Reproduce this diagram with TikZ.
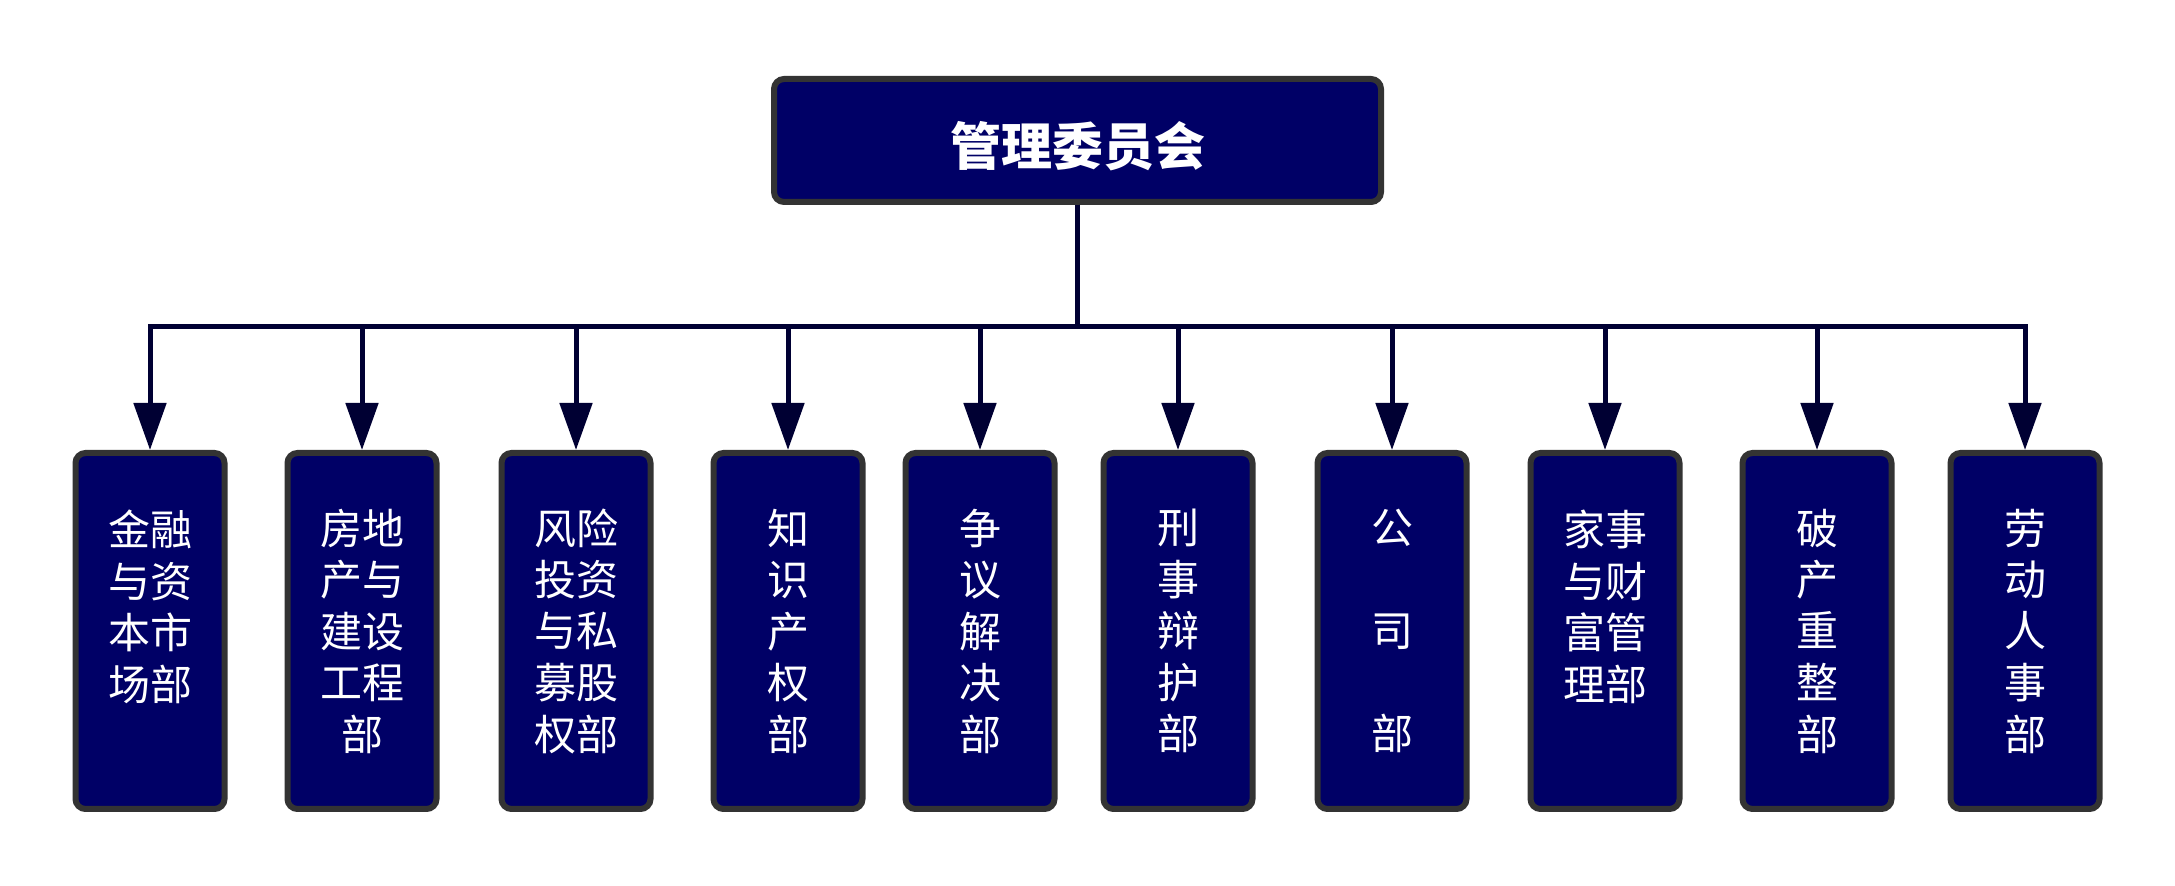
\documentclass[tikz,border=0pt]{standalone}
\usepackage{fontspec}
\setmainfont{Noto Sans CJK SC}
\usetikzlibrary{arrows.meta}
\definecolor{boxfill}{RGB}{0,0,102}
\definecolor{boxdraw}{RGB}{51,51,51}
\definecolor{linec}{RGB}{0,0,51}
\begin{document}
\begin{tikzpicture}[x=0.5pt,y=-0.5pt,
  dept/.style={draw=boxdraw, line width=3pt, fill=boxfill, rounded corners=5pt,
    minimum width=74.5pt, minimum height=178pt, text=white,
    font=\fontsize{21}{25.75}\selectfont, align=center, inner sep=0pt},
  head/.style={draw=boxdraw, line width=3pt, fill=boxfill, rounded corners=5pt,
    minimum width=303.5pt, minimum height=61.5pt, text=white,
    font=\fontsize{25.5}{30}\selectfont\bfseries, inner sep=0pt},
  conn/.style={draw=linec, line width=2.5pt, -{Triangle[length=23.5pt,width=16pt]}}]
\useasboundingbox (0,0) rectangle (2175,886);
\node[head] (top) at (1077.5,140.5) {\raisebox{-12.5pt}[0pt][0pt]{管理委员会}};
\node[dept] (b1) at (150,631) {金融\\与资\\本市\\场部\\\mbox{}};
\node[dept] (b2) at (362,631) {房地\\产与\\建设\\工程\\部};
\node[dept] (b3) at (576,631) {风险\\投资\\与私\\募股\\权部};
\node[dept] (b4) at (788,631) {知\\识\\产\\权\\部};
\node[dept] (b5) at (980,631) {争\\议\\解\\决\\部};
\node[dept] (b6) at (1178,631) {刑\\事\\辩\\护\\部};
\node[dept] (b7) at (1392,631) {公\\\mbox{}\\司\\\mbox{}\\部};
\node[dept] (b8) at (1605,631) {家事\\与财\\富管\\理部\\\mbox{}};
\node[dept] (b9) at (1817,631) {破\\产\\重\\整\\部};
\node[dept] (b10) at (2025,631) {劳\\动\\人\\事\\部};
\coordinate (j) at (1077.5,327);
\foreach \i in {1,...,10}{
  \draw[conn] (top.south) -- (j) -| (b\i.north);
}
\end{tikzpicture}
\end{document}
